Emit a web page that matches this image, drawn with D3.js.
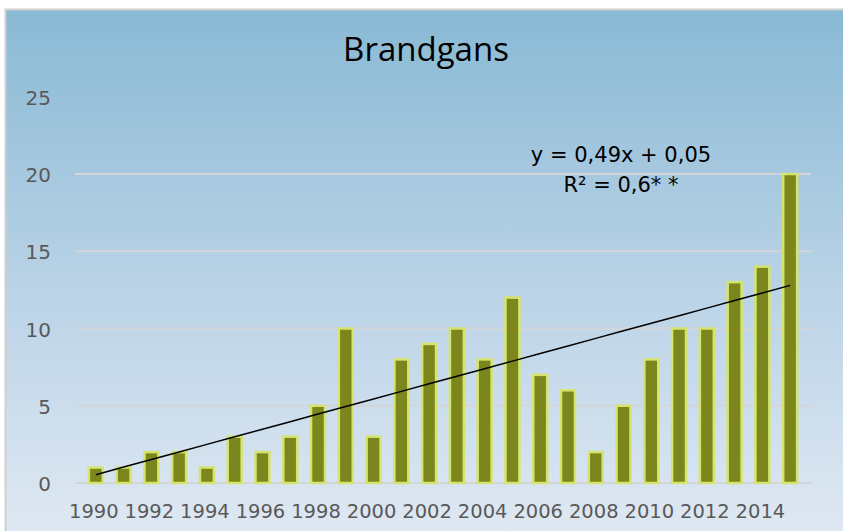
<!DOCTYPE html>
<html>
<head>
<meta charset="utf-8">
<style>
  body { margin: 0; background: #ffffff; }
  svg { display: block; }
</style>
</head>
<body>
<svg id="chart" width="843" height="531"></svg>
<script src="https://d3js.org/d3.v7.min.js"></script>
<script>
  // data
  let years = [1990,1991,1992,1993,1994,1995,1996,1997,1998,1999,2000,2001,2002,
               2003,2004,2005,2006,2007,2008,2009,2010,2011,2012,2013,2014,2015]
  let counts = [1,1,2,2,1,3,2,3,5,10,3,8,9,10,8,12,7,6,2,5,8,10,10,13,14,20]
  let yTicks = [0,5,10,15,20,25]
  let trend = {slope: 0.49, intercept: 0.05}
  let eqLines = ["y = 0,49x + 0,05", "R² = 0,6* *"]
  let title = "Brandgans"

  let width = 843
  let height = 531
  let margin = {left: 75, right: 32, top: 97, bottom: 48}

  let svg = d3.select("#chart")

  // background with gradient
  let defs = svg.append("defs")
  let grad = defs.append("linearGradient")
      .attr("id", "bg").attr("x1", 0).attr("y1", 0).attr("x2", 0).attr("y2", 1)
  grad.append("stop").attr("offset", "0%").attr("stop-color", "#89b9d4")
  grad.append("stop").attr("offset", "55%").attr("stop-color", "#bcd4e7")
  grad.append("stop").attr("offset", "100%").attr("stop-color", "#e0e9f3")

  svg.append("rect")
      .attr("x", 5.5).attr("y", 9.5)
      .attr("width", width).attr("height", height)
      .attr("fill", "url(#bg)")
      .attr("stroke", "#d0d0d0")
      .attr("stroke-width", 2)

  let xScale = d3.scaleBand()
      .domain(years)
      .range([margin.left, width - margin.right])
      .padding(0.5)

  let yScale = d3.scaleLinear()
      .domain([0, 25])
      .range([483, 483 - 25 * 15.45])

  // gridlines (no line at top value)
  svg.append("g")
      .selectAll("line")
      .data(yTicks.filter(t => t < 25))
      .enter().append("line")
      .attr("x1", margin.left)
      .attr("x2", width - margin.right)
      .attr("y1", d => yScale(d))
      .attr("y2", d => yScale(d))
      .attr("stroke", "#d3d5d8")
      .attr("stroke-width", 2)

  // y labels
  svg.append("g")
      .selectAll("text")
      .data(yTicks)
      .enter().append("text")
      .attr("x", 51)
      .attr("y", d => yScale(d) + 8)
      .attr("text-anchor", "end")
      .attr("font-family", "DejaVu Sans")
      .attr("font-size", 20)
      .attr("fill", "#595959")
      .text(d => d)

  // bars
  svg.append("g")
      .selectAll("rect")
      .data(years)
      .enter().append("rect")
      .attr("x", d => xScale(d))
      .attr("width", xScale.bandwidth())
      .attr("y", (d, i) => yScale(counts[i]))
      .attr("height", (d, i) => yScale(0) - yScale(counts[i]))
      .attr("fill", "#7b861d")
      .attr("stroke", "#d5e46c")
      .attr("stroke-width", 2.5)

  // x labels every other year
  svg.append("g")
      .selectAll("text")
      .data(years.filter((d, i) => i % 2 === 0))
      .enter().append("text")
      .attr("x", d => xScale(d) + xScale.bandwidth() / 2 - 2)
      .attr("y", 518)
      .attr("text-anchor", "middle")
      .attr("font-family", "DejaVu Sans")
      .attr("font-size", 19.5)
      .attr("fill", "#595959")
      .text(d => d)

  // trend line
  let lineGen = d3.line()
      .x(d => xScale(d) + xScale.bandwidth() / 2)
      .y((d, i) => yScale(trend.slope * (i + 1) + trend.intercept))
  svg.append("path")
      .datum(years)
      .attr("d", lineGen)
      .attr("fill", "none")
      .attr("stroke", "#000000")
      .attr("stroke-width", 1.5)

  // equation
  svg.append("g")
      .selectAll("text")
      .data(eqLines)
      .enter().append("text")
      .attr("x", 621)
      .attr("y", (d, i) => 162 + i * 30)
      .attr("text-anchor", "middle")
      .attr("font-family", "DejaVu Sans")
      .attr("font-size", 21)
      .attr("fill", "#000000")
      .text(d => d)

  // title
  svg.append("text")
      .attr("x", 426)
      .attr("y", 61)
      .attr("text-anchor", "middle")
      .attr("font-family", "Open Sans")
      .attr("font-size", 33)
      .attr("fill", "#000000")
      .text(title)
</script>
</body>
</html>
